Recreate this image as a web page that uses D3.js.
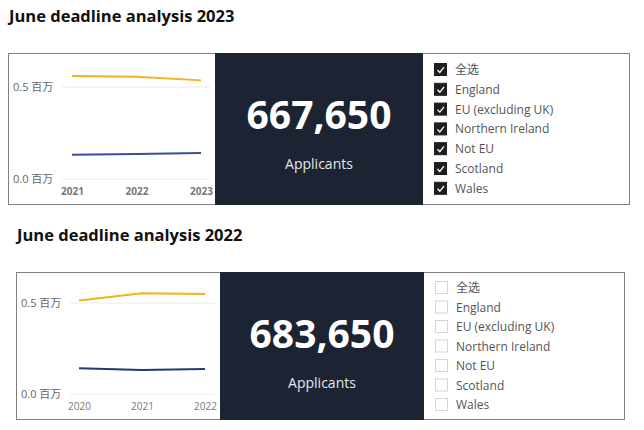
<!DOCTYPE html>
<html>
<head>
<meta charset="utf-8">
<script src="https://cdn.jsdelivr.net/npm/d3@7"></script>
<style>
  body { margin: 0; background: #fff; }
  text { font-family: "Open Sans", "Noto Sans CJK SC", sans-serif; }
</style>
</head>
<body>
<svg id="chart" width="644" height="430"></svg>
<script>
// data (values in millions)
const years2023 = ["2021", "2022", "2023"];
const ukLine2023 = [0.560, 0.556, 0.536];
const intlLine2023 = [0.132, 0.136, 0.141];
const total2023 = 667650;

const years2022 = ["2020", "2021", "2022"];
const ukLine2022 = [0.514, 0.553, 0.549];
const intlLine2022 = [0.141, 0.132, 0.137];
const total2022 = 683650;

const yTicks = [0, 0.5];
const filterItems = ["全选", "England", "EU (excluding UK)", "Northern Ireland", "Not EU", "Scotland", "Wales"];

const svg = d3.select("#chart");

// one dashboard row
function drawPanel(opt) {
  const g = svg.append("g");

  // title
  g.append("text")
    .attr("x", opt.left + 1)
    .attr("y", opt.top - 31)
    .style("font-size", "16.5px")
    .style("font-weight", "bold")
    .style("fill", "#111")
    .text(opt.title);

  // outer frame
  g.append("rect")
    .attr("x", opt.left + 0.5).attr("y", opt.top + 0.5)
    .attr("width", opt.right - opt.left).attr("height", opt.bottom - opt.top)
    .attr("fill", "#fff").attr("stroke", "#808080");

  // dark card
  g.append("rect")
    .attr("x", opt.cardX).attr("y", opt.top)
    .attr("width", opt.listX - opt.cardX).attr("height", opt.bottom - opt.top + 1)
    .attr("fill", "#1c2332");

  const cx = (opt.cardX + opt.listX) / 2;
  g.append("text")
    .attr("x", cx).attr("y", opt.top + 76)
    .attr("text-anchor", "middle")
    .style("font-size", "39px")
    .style("font-weight", "bold")
    .style("fill", "#fff")
    .text(d3.format(",")(opt.total));

  g.append("text")
    .attr("x", cx).attr("y", opt.top + 116)
    .attr("text-anchor", "middle")
    .style("font-size", "14px")
    .style("fill", "#e6e6e6")
    .text("Applicants");

  // line chart
  const x = d3.scalePoint()
    .domain(opt.years)
    .range([opt.x0, opt.x1]);

  const y = d3.scaleLinear()
    .domain([0, 0.5])
    .range([opt.y0, opt.y05]);

  g.selectAll(".grid")
    .data(yTicks)
    .enter()
    .append("line")
    .attr("x1", opt.left + 54).attr("x2", opt.cardX - 5)
    .attr("y1", d => y(d)).attr("y2", d => y(d))
    .attr("stroke", "#ececec");

  g.selectAll(".ylab")
    .data(yTicks)
    .enter()
    .append("text")
    .attr("x", opt.left + 5)
    .attr("y", d => y(d) + 4)
    .style("font-size", "11px")
    .style("fill", "#666")
    .text(d => d3.format(".1f")(d) + " 百万");

  const xAxis = d3.axisBottom(x).tickSize(0).tickPadding(0);
  const ax = g.append("g")
    .attr("transform", `translate(0, ${opt.y0 + 9})`)
    .call(xAxis);
  ax.select(".domain").remove();
  ax.selectAll("text")
    .style("font-size", "10px")
    .style("font-weight", opt.checked ? "bold" : "normal")
    .style("fill", "#777")
    .style("font-family", "'Open Sans', sans-serif");

  const line = d3.line()
    .x((d, i) => x(opt.years[i]))
    .y(d => y(d));

  g.append("path")
    .datum(opt.uk)
    .attr("d", line)
    .attr("fill", "none")
    .attr("stroke", "#f3b31f")
    .attr("stroke-width", 2);

  g.append("path")
    .datum(opt.intl)
    .attr("d", line)
    .attr("fill", "none")
    .attr("stroke", opt.blue)
    .attr("stroke-width", 2);

  // slicer list
  const rows = g.selectAll(".item")
    .data(filterItems)
    .enter()
    .append("g")
    .attr("transform", (d, i) => `translate(${opt.listX + 11}, ${opt.listTop + i * opt.rowStep})`);

  rows.append("rect")
    .attr("x", 0.5).attr("y", -6.5)
    .attr("width", 12).attr("height", 12)
    .attr("fill", opt.checked ? "#1e1e1e" : "#fff")
    .attr("stroke", opt.checked ? "#1e1e1e" : "#d6d6d6");

  if (opt.checked) {
    rows.append("path")
      .attr("d", "M3.5,0 L5.8,2.5 L10,-2.8")
      .attr("fill", "none")
      .attr("stroke", "#fff")
      .attr("stroke-width", 1.3);
  }

  rows.append("text")
    .attr("x", 21)
    .attr("y", 4)
    .style("font-size", "12px")
    .style("fill", "#555")
    .text(d => d);
}

drawPanel({
  title: "June deadline analysis 2023",
  left: 8, top: 53, right: 629, bottom: 204,
  cardX: 215, listX: 423,
  x0: 72, x1: 201, y0: 179, y05: 87,
  years: years2023, uk: ukLine2023, intl: intlLine2023,
  total: total2023, blue: "#3b4e9e",
  listTop: 70, rowStep: 19.8, checked: true
});

drawPanel({
  title: "June deadline analysis 2022",
  left: 16, top: 272, right: 624, bottom: 419,
  cardX: 220, listX: 424,
  x0: 79, x1: 205, y0: 394, y05: 303,
  years: years2022, uk: ukLine2022, intl: intlLine2022,
  total: total2022, blue: "#243a78",
  listTop: 288, rowStep: 19.5, checked: false
});
</script>
</body>
</html>
